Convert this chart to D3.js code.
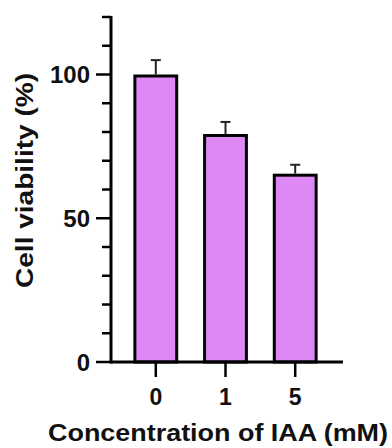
<!DOCTYPE html>
<html>
<head>
<meta charset="utf-8">
<script src="https://cdn.jsdelivr.net/npm/d3@7"></script>
<style>
  body { margin: 0; background: #fff; }
  text { font-family: "Liberation Sans", Arial, sans-serif; font-weight: bold; fill: #111; }
</style>
</head>
<body>
<div id="chart"></div>
<script>
var categories = ["0", "1", "5"];
var viability = [100, 79.3, 65.5];
var errors = [5, 4.2, 3.1];
var yTicks = [0, 50, 100];
var yMinorTicks = [0, 10, 20, 30, 40, 50, 60, 70, 80, 90, 100, 110, 120];

var width = 392, height = 448;
var svg = d3.select("#chart").append("svg")
    .attr("width", width)
    .attr("height", height);

var x = d3.scaleBand()
    .domain(categories)
    .range([107, 344])
    .padding(0.4);

var y = d3.scaleLinear()
    .domain([0, 120])
    .range([362, 17]);

var axisX = 111;
var barColor = "#dd88f5";

// bars
svg.append("g")
    .selectAll("rect")
    .data(viability)
    .enter().append("rect")
    .attr("x", function (d, i) { return x(categories[i]); })
    .attr("y", function (d) { return y(d) + 1.5; })
    .attr("width", x.bandwidth())
    .attr("height", function (d) { return y(0) - y(d) - 1.5; })
    .attr("fill", barColor)
    .attr("stroke", "#000")
    .attr("stroke-width", 3);

// error bars (upper only)
var err = svg.append("g")
    .attr("stroke", "#222")
    .attr("stroke-width", 2);
viability.forEach(function (d, i) {
    var cx = x(categories[i]) + x.bandwidth() / 2;
    err.append("line")
        .attr("x1", cx).attr("x2", cx)
        .attr("y1", y(d)).attr("y2", y(d + errors[i]));
    err.append("line")
        .attr("x1", cx - 5).attr("x2", cx + 5)
        .attr("y1", y(d + errors[i])).attr("y2", y(d + errors[i]));
});

// y axis line
svg.append("line")
    .attr("x1", axisX).attr("x2", axisX)
    .attr("y1", y(120) - 1).attr("y2", y(0) + 1.5)
    .attr("stroke", "#000").attr("stroke-width", 3);

// y ticks
svg.append("g")
    .selectAll("line")
    .data(yMinorTicks)
    .enter().append("line")
    .attr("x1", function (d) { return yTicks.indexOf(d) >= 0 ? 96 : 102; })
    .attr("x2", axisX)
    .attr("y1", function (d) { return y(d); })
    .attr("y2", function (d) { return y(d); })
    .attr("stroke", "#000")
    .attr("stroke-width", 2.5);

svg.append("g")
    .selectAll("text")
    .data(yTicks)
    .enter().append("text")
    .attr("x", 90)
    .attr("y", function (d) { return y(d); })
    .attr("dy", "0.36em")
    .attr("text-anchor", "end")
    .style("font-size", "24px")
    .text(function (d) { return d; });

// x axis line
svg.append("line")
    .attr("x1", axisX).attr("x2", 343)
    .attr("y1", y(0)).attr("y2", y(0))
    .attr("stroke", "#000").attr("stroke-width", 3);

// x ticks
svg.append("g")
    .selectAll("line")
    .data(categories)
    .enter().append("line")
    .attr("x1", function (d) { return x(d) + x.bandwidth() / 2; })
    .attr("x2", function (d) { return x(d) + x.bandwidth() / 2; })
    .attr("y1", y(0))
    .attr("y2", y(0) + 15)
    .attr("stroke", "#000")
    .attr("stroke-width", 2.5);

svg.append("g")
    .selectAll("text")
    .data(categories)
    .enter().append("text")
    .attr("x", function (d) { return x(d) + x.bandwidth() / 2; })
    .attr("y", 405)
    .attr("text-anchor", "middle")
    .style("font-size", "23px")
    .text(function (d) { return d; });

// axis titles
svg.append("text")
    .attr("transform", "translate(33,180.5) rotate(-90)")
    .attr("text-anchor", "middle")
    .attr("textLength", 215)
    .attr("lengthAdjust", "spacingAndGlyphs")
    .style("font-size", "24px")
    .text("Cell viability (%)");

svg.append("text")
    .attr("x", 218)
    .attr("y", 441)
    .attr("text-anchor", "middle")
    .attr("textLength", 340)
    .attr("lengthAdjust", "spacingAndGlyphs")
    .style("font-size", "23px")
    .text("Concentration of IAA (mM)");
</script>
</body>
</html>
